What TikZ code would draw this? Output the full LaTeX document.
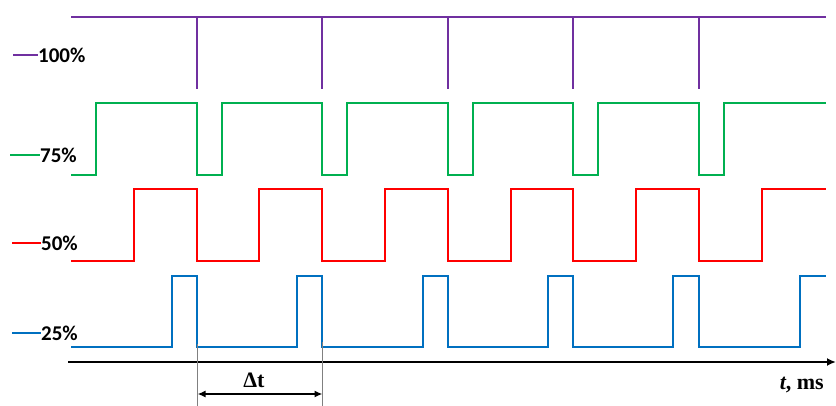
\documentclass[tikz,border=0pt]{standalone}
\usepackage{fontspec}
\setmainfont{Carlito}
\newfontfamily\tnr{Liberation Serif}
\usetikzlibrary{arrows.meta}
\definecolor{pur}{RGB}{112,48,160}
\definecolor{grn}{RGB}{0,176,80}
\definecolor{rd}{RGB}{255,0,0}
\definecolor{blu}{RGB}{0,112,192}
\begin{document}
\begin{tikzpicture}[x=1pt,y=-1pt,
    wave/.style={line width=2.8pt,line join=miter},
    lbl/.style={anchor=west,inner sep=0pt,font=\fontsize{21}{24}\selectfont\bfseries},
    tlbl/.style={inner sep=0pt,font=\fontsize{22}{26}\selectfont\tnr\bfseries}]
  \useasboundingbox (0,0) rectangle (836,406);
  % legend
  \node[lbl] (L100) at (38,55) {100\%};
  \node[lbl] (L75) at (40,155) {75\%};
  \node[lbl] (L50) at (41,243) {50\%};
  \node[lbl] (L25) at (41,333) {25\%};
  \draw[wave,pur] (13,55) -- (L100.west);
  \draw[wave,grn] (10,155) -- (L75.west);
  \draw[wave,rd] (12,243) -- (L50.west);
  \draw[wave,blu] (12,333) -- (L25.west);
  % signals
  \draw[wave,pur] (71,17) -- (826,17);
  \foreach \x in {197,322,448,573,699}
    \draw[wave,pur] (\x,17) -- (\x,89);
  \draw[wave,grn] (71,175) -| (96,103) -| (197,175) -| (222,103) -| (322,175)
    -| (347,103) -| (448,175) -| (473,103) -| (573,175) -| (598,103)
    -| (699,175) -| (724,103) -- (826,103);
  \draw[wave,rd] (71,261) -| (134,189) -| (197,261) -| (259,189) -| (322,261)
    -| (385,189) -| (448,261) -| (511,189) -| (573,261) -| (636,189)
    -| (699,261) -| (762,189) -- (826,189);
  \draw[wave,blu] (71,347) -| (172,276) -| (197,347) -| (297,276) -| (322,347)
    -| (423,276) -| (448,347) -| (548,276) -| (573,347) -| (673,276)
    -| (699,347) -| (800,276) -- (826,276);
  % time axis
  \coordinate (t0) at (68,362);
  \coordinate (t1) at (836,362);
  \draw[line width=2pt,-{Latex[length=9pt,width=8pt]}] (t0) -- (t1);
  \node[tlbl,anchor=east] (T) at (824,385) {\textit{t}, ms};
  % period
  \coordinate (a0) at (197.5,344);
  \coordinate (a1) at (322.5,342);
  \draw[gray,line width=1pt] (a0) -- (197.5,406);
  \draw[gray,line width=1pt] (a1) -- (322.5,406);
  \coordinate (d0) at (197.5,394);
  \coordinate (d1) at (322.5,394);
  \draw[line width=1.8pt,{Latex[length=8pt,width=7pt]}-{Latex[length=8pt,width=7pt]}] (d0) -- (d1);
  \node[tlbl] (dt) at (254,380) {Δt};
\end{tikzpicture}
\end{document}
